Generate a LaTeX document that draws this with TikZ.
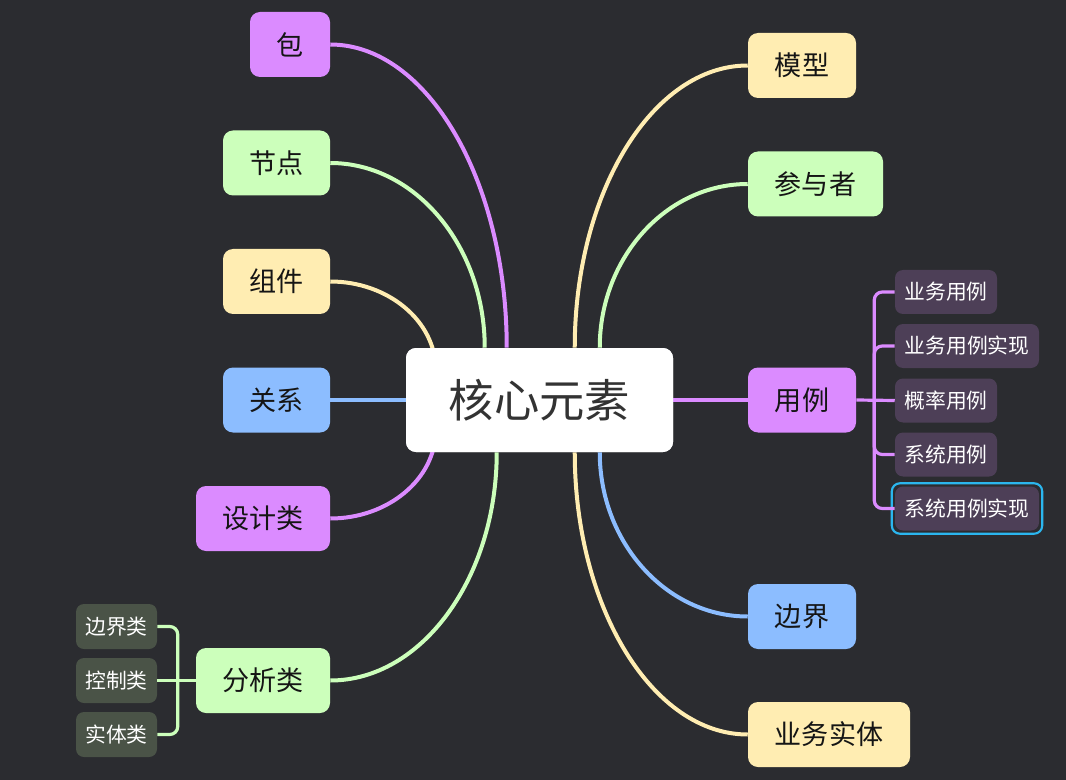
\documentclass[tikz,border=0pt]{standalone}
\usepackage{fontspec}
\newfontfamily\cjk{Noto Sans CJK SC}
\usetikzlibrary{calc,fit}
\definecolor{bg}{HTML}{2B2C30}
\definecolor{cpurple}{HTML}{DB8BFF}
\definecolor{cgreen}{HTML}{CCFFBB}
\definecolor{cyellow}{HTML}{FFEDB2}
\definecolor{cblue}{HTML}{8CBDFF}
\definecolor{subpurple}{HTML}{4D3F57}
\definecolor{subgreen}{HTML}{4A5347}
\definecolor{selblue}{HTML}{2BB6EE}
\definecolor{ink}{HTML}{151515}
\begin{document}
\begin{tikzpicture}[x=0.75pt,y=-0.75pt,
  central/.style={rounded corners=7.5pt, fill=white, minimum width=200.25pt, minimum height=78pt,
    inner sep=0pt, font=\cjk\fontsize{34}{40}\selectfont, text=black!80},
  topic/.style={rounded corners=7.5pt, minimum height=48.75pt, inner sep=0pt,
    font=\cjk\fontsize{20.3}{24}\selectfont, text=ink},
  subtopic/.style={rounded corners=6pt, minimum height=33pt, inner sep=0pt,
    font=\cjk\fontsize{15.6}{18}\selectfont, text=white},
  link/.style={line width=3pt},
  bracket/.style={line width=2.4pt, rounded corners=6pt},
  branch/.style={to path={.. controls ($(\tikztostart)!0.55!(\tikztotarget|-\tikztostart)$)
      and ($(\tikztotarget)!0.55!(\tikztotarget|-\tikztostart)$) .. (\tikztotarget)}}]

% canvas
\fill[bg] (0,0) rectangle (1066,780);
\useasboundingbox (0,0) rectangle (1066,780);

% central topic (placed first for anchors, drawn again above the branches)
\node[central] (c) at (539.5,400) {核心元素};

% main topics, left
\node[topic, fill=cpurple, minimum width=60pt]     (bao)  at (290,44.5)  {包};
\node[topic, fill=cgreen,  minimum width=80.25pt]  (jd)   at (276.5,163) {节点};
\node[topic, fill=cyellow, minimum width=80.25pt]  (zj)   at (276.5,281.5) {组件};
\node[topic, fill=cblue,   minimum width=80.25pt]  (gx)   at (276.5,400) {关系};
\node[topic, fill=cpurple, minimum width=100.5pt]  (sjl)  at (263,518.5) {设计类};
\node[topic, fill=cgreen,  minimum width=100.5pt]  (fxl)  at (263,680.5) {分析类};

% main topics, right
\node[topic, fill=cyellow, minimum width=81pt]     (mx)   at (802,65.5)  {模型};
\node[topic, fill=cgreen,  minimum width=101.25pt] (cyz)  at (815.5,184) {参与者};
\node[topic, fill=cpurple, minimum width=81pt]     (yl)   at (802,400)   {用例};
\node[topic, fill=cblue,   minimum width=81pt]     (bj)   at (802,616.5) {边界};
\node[topic, fill=cyellow, minimum width=121.5pt]  (ywst) at (829,734.5) {业务实体};

% subtopics of 用例
\node[subtopic, fill=subpurple, minimum width=76.5pt] (u1) at (946,292)   {业务用例};
\node[subtopic, fill=subpurple, minimum width=108pt]  (u2) at (967,346)   {业务用例实现};
\node[subtopic, fill=subpurple, minimum width=76.5pt] (u3) at (946,400.5) {概率用例};
\node[subtopic, fill=subpurple, minimum width=76.5pt] (u4) at (946,454.5) {系统用例};
\node[subtopic, fill=subpurple, minimum width=108pt]  (u5) at (967,508.5) {系统用例实现};
\node[draw=selblue, line width=1.6pt, rounded corners=6pt, inner sep=2.2pt, fit=(u5)] (sel) {};

% subtopics of 分析类
\node[subtopic, fill=subgreen, minimum width=60.75pt, minimum height=33.75pt] (a1) at (116.5,626.5) {边界类};
\node[subtopic, fill=subgreen, minimum width=60.75pt, minimum height=33.75pt] (a2) at (116.5,680.5) {控制类};
\node[subtopic, fill=subgreen, minimum width=60.75pt, minimum height=33.75pt] (a3) at (116.5,734.5) {实体类};

% attachment points on the central topic
\coordinate (sBao)  at ($(c.north west)+(101,0)$);
\coordinate (sJd)   at ($(c.north west)+(79,0)$);
\coordinate (sZj)   at ($(c.north west)+(30,22)$);
\coordinate (sSjl)  at ($(c.south west)+(30,-22)$);
\coordinate (sFxl)  at ($(c.south west)+(91,0)$);
\coordinate (sMx)   at ($(c.north west)+(169,0)$);
\coordinate (sCyz)  at ($(c.north west)+(194,0)$);
\coordinate (sBj)   at ($(c.south west)+(194,0)$);
\coordinate (sYwst) at ($(c.south west)+(169,0)$);

% branches from the central topic
\draw[link, cpurple] (bao.east)  to[branch] (sBao);
\draw[link, cgreen]  (jd.east)   to[branch] (sJd);
\draw[link, cyellow] (zj.east)   to[branch] (sZj);
\draw[link, cblue]   (gx.east)   -- (c.west);
\draw[link, cpurple] (sjl.east)  to[branch] (sSjl);
\draw[link, cgreen]  (fxl.east)  to[branch] (sFxl);
\draw[link, cyellow] (mx.west)   to[branch] (sMx);
\draw[link, cgreen]  (cyz.west)  to[branch] (sCyz);
\draw[link, cpurple] (yl.west)   -- (c.east);
\draw[link, cblue]   (bj.west)   to[branch] (sBj);
\draw[link, cyellow] (ywst.west) to[branch] (sYwst);

% central topic above its branches
\node[central] at (c) {核心元素};

% bracket joining 用例 to its subtopics
\coordinate (ju) at ($(yl.east)+(18,0)$);
\draw[bracket, cpurple] (yl.east) -- (u3.west);
\foreach \k in {u1,u2,u4,u5}
  \draw[bracket, cpurple] (ju) |- (\k.west);

% bracket joining 分析类 to its subtopics
\coordinate (ja) at ($(fxl.west)+(-18,0)$);
\draw[bracket, cgreen] (fxl.west) -- (a2.east);
\foreach \k in {a1,a3}
  \draw[bracket, cgreen] (ja) |- (\k.east);

\end{tikzpicture}
\end{document}
